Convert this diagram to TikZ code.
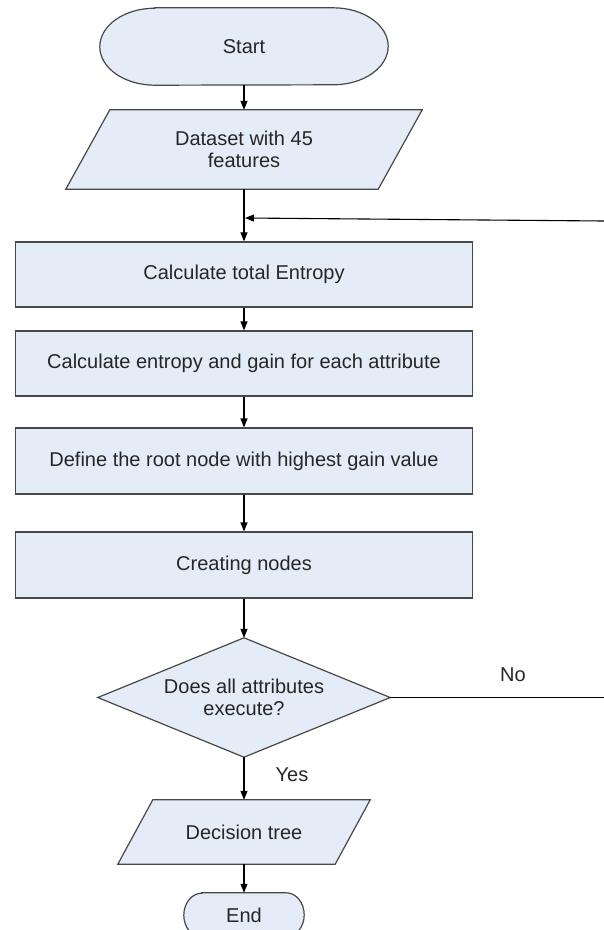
\documentclass[tikz,border=0pt]{standalone}
\usepackage{fontspec}
\setmainfont{Liberation Sans}
\usetikzlibrary{arrows.meta,backgrounds}
\definecolor{boxfill}{HTML}{E4ECF7}
\definecolor{boxline}{HTML}{484848}
\definecolor{txt}{HTML}{262626}
\begin{document}
\begin{tikzpicture}[x=1pt,y=-1pt,
  every node/.style={font=\fontsize{20}{22}\selectfont, text=txt, align=center, inner sep=0pt},
  holder/.style={draw=none},
  procbox/.style={draw=boxline, fill=boxfill, line width=1.2pt, minimum width=457pt},
  shp/.style={fill=boxfill, draw=boxline, line width=1.2pt},
  conn/.style={draw=black, line width=1.1pt, -{Triangle[length=9pt,width=7pt]}},
  plain/.style={draw=black, line width=1.1pt}
]
\useasboundingbox (0,0) rectangle (604,930);

% nodes
\node[holder, minimum width=288pt, minimum height=77pt] (start) at (244,46.5) {Start};
\node[holder, minimum width=356pt, minimum height=79pt] (data) at (244,149.5) {Dataset with 45\\features};
\node[procbox, minimum height=65pt] (r1) at (244,274.5) {Calculate total Entropy};
\node[procbox, minimum height=65pt] (r2) at (244,363.5) {Calculate entropy and gain for each attribute};
\node[procbox, minimum height=66pt] (r3) at (244,461) {Define the root node with highest gain value};
\node[procbox, minimum height=66pt] (r4) at (244,565) {Creating nodes};
\node[holder, minimum width=292pt, minimum height=119pt] (dec) at (244,697.5) {Does all attributes\\execute?};
\node[holder, minimum width=252pt, minimum height=64pt] (dt) at (244,832) {Decision tree};
\node[holder, minimum width=120pt, minimum height=44pt] (end) at (244,915) {End};

% shapes behind the texts
\begin{scope}[on background layer]
\draw[shp] ([xshift=55pt]start.north west) -- ([xshift=-55pt]start.north east)
  arc[start angle=90, end angle=-90, x radius=55pt, y radius=38.5pt]
  -- ([xshift=55pt]start.south west)
  arc[start angle=270, end angle=90, x radius=55pt, y radius=38.5pt] -- cycle;
\draw[shp] ([xshift=44pt]data.north west) -- (data.north east)
  -- ([xshift=-44pt]data.south east) -- (data.south west) -- cycle;
\draw[shp] (dec.north) -- (dec.east) -- (dec.south) -- (dec.west) -- cycle;
\draw[shp] ([xshift=35pt]dt.north west) -- (dt.north east)
  -- ([xshift=-35pt]dt.south east) -- (dt.south west) -- cycle;
\draw[shp] ([xshift=18pt]end.north west) -- ([xshift=-18pt]end.north east)
  arc[start angle=90, end angle=-90, x radius=18pt, y radius=22pt]
  -- ([xshift=18pt]end.south west)
  arc[start angle=270, end angle=90, x radius=18pt, y radius=22pt] -- cycle;
\end{scope}

% connectors
\coordinate (join) at (245,218);
\coordinate (loopR) at (604,221);
\coordinate (noEnd) at (604,697.5);
\draw[conn] (start.south) -- (data.north);
\draw[conn] (data.south) -- (r1.north);
\draw[conn] (loopR) -- (join);
\draw[conn] (r1.south) -- (r2.north);
\draw[conn] (r2.south) -- (r3.north);
\draw[conn] (r3.south) -- (r4.north);
\draw[conn] (r4.south) -- (dec.north);
\draw[conn] (dec.south) -- (dt.north);
\draw[conn] (dt.south) -- (end.north);
\draw[plain] (dec.east) -- (noEnd);

% labels
\node (nolbl) at (513,675) {No};
\node (yeslbl) at (292,775) {Yes};
\end{tikzpicture}
\end{document}
